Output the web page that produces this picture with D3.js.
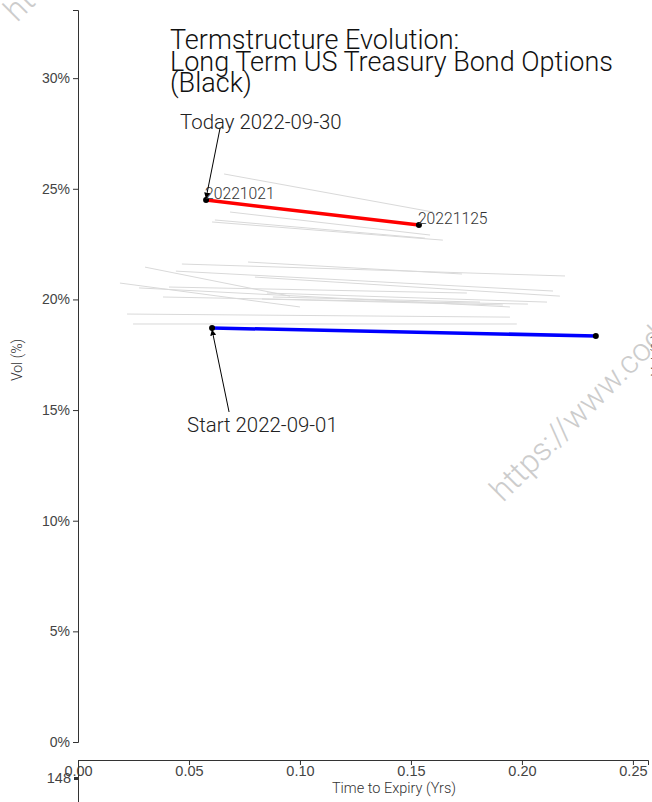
<!DOCTYPE html>
<html>
<head>
<meta charset="utf-8">
<script src="https://cdn.jsdelivr.net/npm/d3@7"></script>
<style>
  body { margin: 0; background: #fff; }
  svg { display: block; font-family: Roboto, "Open Sans", sans-serif; font-weight: 300; }
</style>
</head>
<body>
<div id="chart"></div>
<script>
// titulo y textos
const titleLines = ["Termstructure Evolution:", "Long Term US Treasury Bond Options", "(Black)"];
const yTicks = [0, 0.05, 0.10, 0.15, 0.20, 0.25, 0.30];
const xTicks = [0, 0.05, 0.10, 0.15, 0.20, 0.25];

// curvas historicas (2 vencimientos por fecha): tiempo al vencimiento y vol
const histT1 = [0.0658, 0.0685, 0.0604, 0.0617, 0.0766, 0.0468, 0.0302, 0.0441, 0.0797, 0.0189, 0.0275, 0.0410, 0.0383, 0.0851, 0.0829, 0.0221, 0.0248, 0.0878];
const histV1 = [0.2567, 0.2395, 0.2350, 0.2359, 0.2169, 0.2160, 0.2146, 0.2128, 0.2101, 0.2074, 0.2052, 0.2056, 0.2011, 0.2029, 0.2002, 0.1934, 0.1889, 0.2011];
const histT2 = [0.1599, 0.1586, 0.1644, 0.1563, 0.1730, 0.2194, 0.0955, 0.2140, 0.2171, 0.1000, 0.1946, 0.1752, 0.2027, 0.2113, 0.1914, 0.1946, 0.1977, 0.1811];
const histV2 = [0.2395, 0.2291, 0.2268, 0.2277, 0.2115, 0.2106, 0.2015, 0.2038, 0.2015, 0.1966, 0.1966, 0.2029, 0.1979, 0.1988, 0.1975, 0.1920, 0.1889, 0.1988];

// hoy y el inicio
const todayT = [0.0577, 0.1536];
const todayV = [0.2449, 0.2336];
const todayLabels = ["20221021", "20221125"];
const startT = [0.0604, 0.2333];
const startV = [0.1871, 0.1835];

const svgWidth = 652, svgHeight = 802;
const svg = d3.select("#chart").append("svg")
  .attr("width", svgWidth)
  .attr("height", svgHeight);

const xScale = d3.scaleLinear().domain([0, 0.2568]).range([78, 648]);
const yScale = d3.scaleLinear().domain([0, 0.3308]).range([742, 10]);

// marca de agua
svg.append("text")
  .attr("transform", "translate(503,503) rotate(-45)")
  .attr("fill", "#cccccc")
  .style("font-size", "32px")
  .text("https://www.codeandstats.com");
svg.append("text")
  .attr("transform", "translate(17,23) rotate(-45)")
  .attr("fill", "#cccccc")
  .style("font-size", "32px")
  .text("https://www.codeandstats.com");

// ejes
const yAxis = svg.append("g")
  .attr("transform", "translate(78,0)")
  .call(d3.axisLeft(yScale).tickValues(yTicks).tickFormat(d3.format(".0%")).tickSize(5));
yAxis.selectAll("text").style("font-size", "14px").attr("fill", "#444");
yAxis.selectAll("line, path").attr("stroke", "#333");

const xAxis = svg.append("g")
  .attr("transform", "translate(0,760)")
  .call(d3.axisBottom(xScale).tickValues(xTicks).tickFormat(d3.format(".2f")).tickSize(5));
xAxis.selectAll("text").style("font-size", "14.5px").attr("fill", "#444").attr("dy", "0.55em");
xAxis.selectAll("line, path").attr("stroke", "#333");

svg.append("text")
  .attr("x", 394).attr("y", 793)
  .attr("text-anchor", "middle")
  .attr("fill", "#333")
  .style("font-size", "14.5px")
  .text("Time to Expiry (Yrs)");

svg.append("text")
  .attr("transform", "translate(22,360) rotate(-90)")
  .attr("text-anchor", "middle")
  .attr("fill", "#333")
  .style("font-size", "14px")
  .text("Vol (%)");

// eje del grafico de abajo (se ve cortado)
const y2 = d3.scaleLinear().domain([140.8, 152.8]).range([802, 762]);
const y2Axis = svg.append("g")
  .attr("transform", "translate(78,0)")
  .call(d3.axisLeft(y2).tickValues([148]).tickSize(4).tickSizeOuter(0));
y2Axis.selectAll("text").style("font-size", "14.5px").attr("fill", "#444");
y2Axis.selectAll("line").attr("stroke", "#333").attr("stroke-width", 3);
y2Axis.selectAll("path").attr("stroke", "#333");

// etiqueta del grafico de la derecha (cortada)
svg.append("text")
  .attr("transform", "translate(662,355) rotate(-90)")
  .attr("text-anchor", "middle")
  .attr("fill", "#333")
  .style("font-size", "14px")
  .text("Vol (%)");

// curvas historicas en gris
const line = d3.line().x(d => xScale(d[0])).y(d => yScale(d[1]));
const histData = histT1.map((t, i) => [[t, histV1[i]], [histT2[i], histV2[i]]]);
svg.selectAll(".hist")
  .data(histData)
  .enter().append("path")
  .attr("class", "hist")
  .attr("d", line)
  .attr("fill", "none")
  .attr("stroke", "#d9d9d9")
  .attr("stroke-width", 1);

const startData = startT.map((t, i) => [t, startV[i]]);
const todayData = todayT.map((t, i) => [t, todayV[i]]);

svg.append("path").datum(startData)
  .attr("d", line).attr("fill", "none")
  .attr("stroke", "#0000ff").attr("stroke-width", 3.5);
svg.append("path").datum(todayData)
  .attr("d", line).attr("fill", "none")
  .attr("stroke", "#ff0000").attr("stroke-width", 3.5);

svg.selectAll(".pt")
  .data(startData.concat(todayData))
  .enter().append("circle")
  .attr("class", "pt")
  .attr("cx", d => xScale(d[0]))
  .attr("cy", d => yScale(d[1]))
  .attr("r", 3)
  .attr("fill", "#000");

svg.selectAll(".ptlabel")
  .data(todayData)
  .enter().append("text")
  .attr("class", "ptlabel")
  .attr("x", d => xScale(d[0]) - 1)
  .attr("y", d => yScale(d[1]) - 1)
  .attr("fill", "#333")
  .style("font-size", "15.7px")
  .text((d, i) => todayLabels[i]);

// flechas de anotacion
svg.append("defs").append("marker")
  .attr("id", "arrow")
  .attr("viewBox", "0 0 10 10")
  .attr("refX", 9).attr("refY", 5)
  .attr("markerWidth", 6).attr("markerHeight", 6)
  .attr("orient", "auto")
  .append("path")
  .attr("d", "M0,0 L10,5 L0,10 z")
  .attr("fill", "#000");

function annotate(pt, dx, dy, label, tx, ty) {
  const px = xScale(pt[0]), py = yScale(pt[1]);
  svg.append("line")
    .attr("x1", px + dx).attr("y1", py + dy)
    .attr("x2", px).attr("y2", py + (dy > 0 ? 2 : -2))
    .attr("stroke", "#000").attr("stroke-width", 1)
    .attr("marker-end", "url(#arrow)");
  svg.append("text")
    .attr("x", px + tx).attr("y", py + ty)
    .attr("fill", "#222")
    .style("font-size", "20.4px")
    .text(label);
}
annotate(todayData[0], 14, -72, "Today 2022-09-30", -26, -71);
annotate(startData[0], 17, 84, "Start 2022-09-01", -25, 104);

// titulo
svg.append("text")
  .attr("x", 170).attr("y", 49)
  .attr("fill", "#111")
  .style("font-size", "27px")
  .selectAll("tspan")
  .data(titleLines)
  .enter().append("tspan")
  .attr("x", 170)
  .attr("dy", (d, i) => i === 0 ? 0 : 21.5)
  .text(d => d);
</script>
</body>
</html>
